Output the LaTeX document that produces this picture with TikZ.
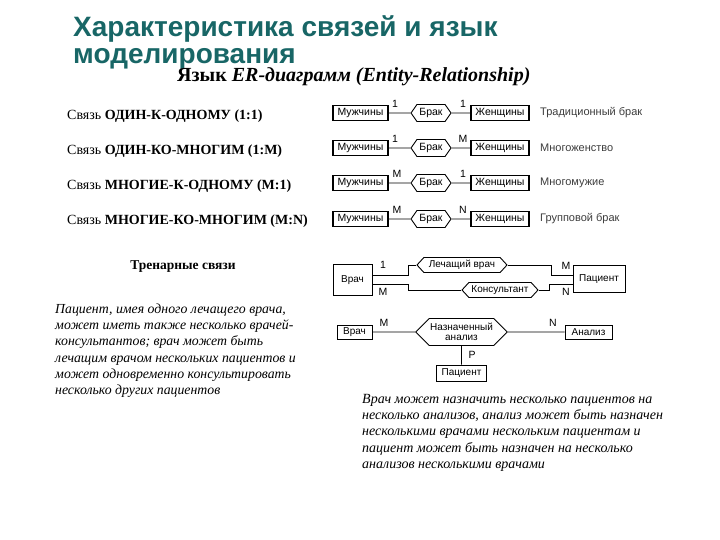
\documentclass[tikz,border=0pt]{standalone}
\usepackage{fontspec}
\setmainfont{Liberation Serif}
\setsansfont{Liberation Sans}
\usetikzlibrary{shapes.symbols}
\definecolor{titlecol}{RGB}{24,102,102}
\definecolor{notegray}{RGB}{60,60,60}

\begin{document}
\begin{tikzpicture}[x=1pt,y=-1pt,
        ent/.style={draw,line width=1.1pt,inner sep=1pt,minimum height=15,font=\sffamily\fontsize{10.5}{10}\selectfont},
        ent3/.style={draw,line width=0.8pt,inner sep=1pt,font=\sffamily\fontsize{10}{10}\selectfont},
        rel/.style={draw,line width=0.9pt,shape=signal,signal to=west and east,signal pointer angle=110,inner sep=1pt,minimum height=17,font=\sffamily\fontsize{10.5}{10}\selectfont},
        card/.style={font=\sffamily\fontsize{10.5}{10}\selectfont,inner sep=0pt},
        kind/.style={anchor=west,inner sep=0pt,font=\fontsize{14}{14}\selectfont},
        note/.style={anchor=west,inner sep=0pt,text=notegray,font=\sffamily\fontsize{11}{11}\selectfont},
        para/.style={anchor=north west,align=left,inner sep=0pt}]
        \useasboundingbox (0,0) rectangle (720,540);
        % title
        \node[anchor=base west,inner sep=0pt,text=titlecol,font=\sffamily\bfseries\fontsize{28}{28}\selectfont] (title1) at (73,37) {Характеристика связей и язык};
        \node[anchor=base west,inner sep=0pt,text=titlecol,font=\sffamily\bfseries\fontsize{28}{28}\selectfont] (title2) at (73,64) {моделирования};
        \node[anchor=base west,inner sep=0pt,font=\bfseries\fontsize{20}{20}\selectfont] (subtitle) at (177,82) {Язык \textit{ER-диаграмм (Entity-Relationship)}};

        % binary links
        \node[kind] (k1) at (67,116) {Связь \textbf{ОДИН-К-ОДНОМУ (1:1)}};
        \node[kind] (k2) at (67,151) {Связь \textbf{ОДИН-КО-МНОГИМ (1:М)}};
        \node[kind] (k3) at (67,186) {Связь \textbf{МНОГИЕ-К-ОДНОМУ (М:1)}};
        \node[kind] (k4) at (67,221) {Связь \textbf{МНОГИЕ-КО-МНОГИМ (M:N)}};

        \node[ent,minimum width=55] (m1) at (360.5,113) {Мужчины};
        \node[rel,minimum width=40] (b1) at (431,113) {Брак};
        \node[ent,minimum width=58] (w1) at (500,113) {Женщины};
        \draw[line width=0.9pt] (m1) -- (b1) -- (w1);
        \node[card] at (395,104) {1};
        \node[card] at (463,104) {1};
        \node[note] (n1) at (540,113) {Традиционный брак};

        \node[ent,minimum width=55] (m2) at (360.5,148) {Мужчины};
        \node[rel,minimum width=40] (b2) at (431,148) {Брак};
        \node[ent,minimum width=58] (w2) at (500,148) {Женщины};
        \draw[line width=0.9pt] (m2) -- (b2) -- (w2);
        \node[card] at (395,139) {1};
        \node[card] at (463,139) {M};
        \node[note] (n2) at (540,148) {Многоженство};

        \node[ent,minimum width=55] (m3) at (360.5,183) {Мужчины};
        \node[rel,minimum width=40] (b3) at (431,183) {Брак};
        \node[ent,minimum width=58] (w3) at (500,183) {Женщины};
        \draw[line width=0.9pt] (m3) -- (b3) -- (w3);
        \node[card] at (397,174) {M};
        \node[card] at (463,174) {1};
        \node[note] (n3) at (540,183) {Многомужие};

        \node[ent,minimum width=55] (m4) at (360.5,219) {Мужчины};
        \node[rel,minimum width=40] (b4) at (431,219) {Брак};
        \node[ent,minimum width=58] (w4) at (500,219) {Женщины};
        \draw[line width=0.9pt] (m4) -- (b4) -- (w4);
        \node[card] at (397,210) {M};
        \node[card] at (463,210) {N};
        \node[note] (n4) at (540,219) {Групповой брак};

        % ternary links
        \node[anchor=base,inner sep=0pt,font=\bfseries\fontsize{13.5}{13.5}\selectfont] (tern) at (183,269) {Тренарные связи};
        \node[ent3,minimum width=39,minimum height=31] (vr1) at (352.5,280) {Врач};
        \node[ent3,minimum width=52,minimum height=27] (pac1) at (599,279) {Пациент};
        \node[rel,minimum height=15,minimum width=90,signal pointer angle=95,font=\sffamily\fontsize{10}{10}\selectfont] (lech) at (462,265) {Лечащий врач};
        \node[rel,minimum height=15,minimum width=76,signal pointer angle=95,font=\sffamily\fontsize{10}{10}\selectfont] (kons) at (500,290) {Консультант};
        \draw[line width=0.9pt] ([yshift=5pt]vr1.east) -- (408,275) |- (lech.west);
        \draw[line width=0.9pt] (lech.east) -| (551,275) -- ([yshift=4pt]pac1.west);
        \draw[line width=0.9pt] ([yshift=-4pt]vr1.east) -- (408,284) |- (kons.west);
        \draw[line width=0.9pt] (kons.east) -| (549,284) -- ([yshift=-5pt]pac1.west);
        \node[card] at (383,265) {1};
        \node[card] at (383,292) {M};
        \node[card] at (566,266) {M};
        \node[card] at (566,292) {N};

        \node[ent3,minimum width=35,minimum height=14] (vr2) at (354.5,332) {Врач};
        \node[rel,minimum width=83,minimum height=27,signal pointer angle=90,align=center,font=\sffamily\fontsize{10}{9.5}\selectfont] (naz) at (461.5,332) {Назначенный\\анализ};
        \node[ent3,minimum width=47,minimum height=14] (an2) at (588.5,332) {Анализ};
        \node[ent3,minimum width=50,minimum height=16] (pac2) at (461.5,373) {Пациент};
        \draw[line width=0.9pt] (vr2) -- (naz) -- (an2);
        \draw[line width=0.9pt] (naz) -- (pac2);
        \node[card] at (384,323) {M};
        \node[card] at (553,323) {N};
        \node[card] at (472,355) {P};

        % explanations
        \node[para,font=\itshape\fontsize{13.8}{16.1}\selectfont] (txt1) at (55,304) {Пациент, имея одного лечащего врача,\\может иметь также несколько врачей-\\консультантов; врач может быть\\лечащим врачом нескольких пациентов и\\может одновременно консультировать\\несколько других пациентов};
        \node[para,font=\itshape\fontsize{14}{16.3}\selectfont] (txt2) at (362,394) {Врач может назначить несколько пациентов на\\несколько анализов, анализ может быть назначен\\несколькими врачами нескольким пациентам и\\пациент может быть назначен на несколько\\анализов несколькими врачами};
\end{tikzpicture}
\end{document}
